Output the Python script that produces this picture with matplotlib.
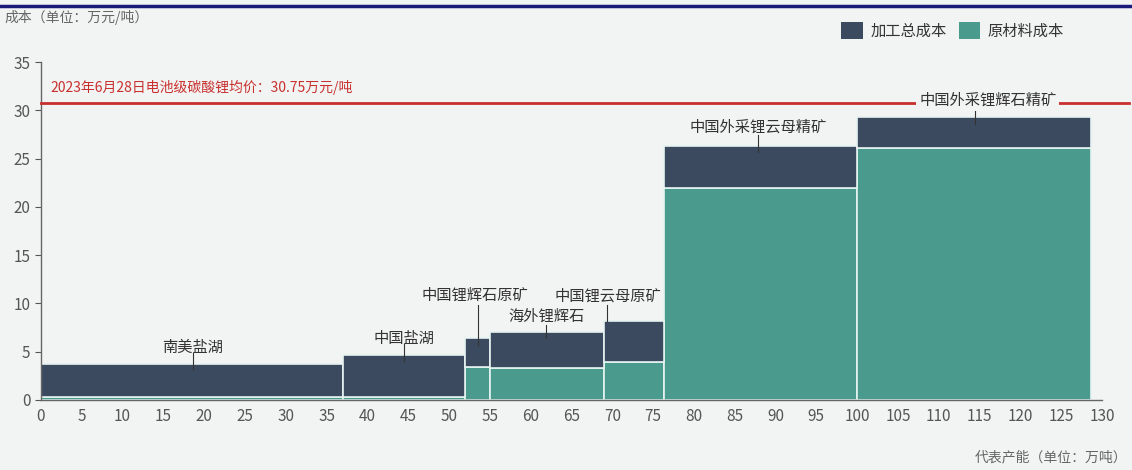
import matplotlib
matplotlib.use("Agg")
import matplotlib.pyplot as plt
from matplotlib.lines import Line2D
from matplotlib.patches import Patch

plt.rcParams['font.family'] = ['Noto Sans CJK SC', 'DejaVu Sans']

# Supply cost curve data
sources = ['南美盐湖', '中国盐湖', '中国锂辉石原矿', '海外锂辉石',
           '中国锂云母原矿', '中国外采锂云母精矿', '中国外采锂辉石精矿']
capacity = [37.0, 15.0, 3.0, 14.0, 7.3, 23.7, 28.6]       # 万吨
total_cost = [3.73, 4.66, 6.38, 7.07, 8.15, 26.3, 29.3]   # 万元/吨
raw_cost = [0.35, 0.35, 3.45, 3.35, 3.97, 21.95, 26.1]    # 万元/吨
price = 30.75
price_label = '2023年6月28日电池级碳酸锂均价：30.75万元/吨'
x_ticks = list(range(0, 131, 5))
y_ticks = list(range(0, 36, 5))

dark = '#3c4a5f'
teal = '#4a9a8e'
bg = '#f2f3f3'
grey = '#555555'

fig = plt.figure(figsize=(11.32, 4.70), dpi=100, facecolor=bg)
ax = fig.add_axes([0.0362, 0.149, 0.9373, 0.719], facecolor=bg)

lefts = []
acc = 0.0
for w in capacity:
    lefts.append(acc)
    acc += w

proc_cost = [t - r for t, r in zip(total_cost, raw_cost)]
ax.bar(lefts, raw_cost, width=capacity, align='edge', color=teal,
       edgecolor='#e6f4f1', linewidth=1.2, zorder=2)
ax.bar(lefts, proc_cost, width=capacity, bottom=raw_cost, align='edge',
       color=dark, edgecolor='#e6f4f1', linewidth=1.2, zorder=2)

# Price reference line
ax.plot([0, 133.3], [price, price], color='#c8302e', lw=2, zorder=3,
        clip_on=False)
ax.text(1.2, 32.4, price_label, color='#c8302e', fontsize=10,
        fontweight='medium', ha='left', va='center')

# Category labels with short leader lines
label_pos = [
    (18.6, 5.4, 18.6, 4.9, 3.2),
    (44.5, 6.4, 44.5, 5.8, 4.0),
    (53.2, 10.8, 53.5, 9.8, 5.7),
    (61.9, 8.7, 61.9, 7.8, 6.4),
    (69.5, 10.8, 69.3, 9.8, 8.15),
    (87.9, 28.3, 87.9, 27.4, 25.7),
]
for name, (tx, ty, lx, ly0, ly1) in zip(sources[:6], label_pos):
    ax.text(tx, ty, name, fontsize=11, color='#333333', ha='center',
            va='center', fontweight='medium', zorder=5)
    ax.plot([lx, lx], [ly0, ly1], color='#333333', lw=0.8, zorder=4)
ax.text(116.0, 31.05, sources[6], fontsize=11, color='#333333', ha='center',
        va='center', fontweight='medium', zorder=5,
        bbox=dict(facecolor=bg, edgecolor='none', pad=2))
ax.plot([114.5, 114.5], [30.1, 28.6], color='#333333', lw=0.8, zorder=4)

ax.set_xlim(0, 130)
ax.set_ylim(0, 35)
ax.set_xticks(x_ticks)
ax.set_yticks(y_ticks)
ax.tick_params(axis='both', labelsize=11, colors=grey, length=4)
ax.tick_params(axis='x', length=0, pad=6)
for s in ['top', 'right']:
    ax.spines[s].set_visible(False)
for s in ['left', 'bottom']:
    ax.spines[s].set_color('#666666')
    ax.spines[s].set_linewidth(1)

fig.text(0.004, 0.962, '成本（单位：万元/吨）', fontsize=10, color='#666666',
         ha='left', va='center')
fig.text(0.996, 0.026, '代表产能（单位：万吨）', fontsize=10, color='#666666',
         ha='right', va='center')

handles = [Patch(facecolor=dark, edgecolor='none'),
           Patch(facecolor=teal, edgecolor='none')]
fig.legend(handles, ['加工总成本', '原材料成本'], loc='center right',
           bbox_to_anchor=(0.952, 0.935), ncol=2, frameon=False,
           fontsize=11, handlelength=1.4, handleheight=1.4,
           columnspacing=0.8, handletextpad=0.5, labelcolor='#333333')

# Top border rule
fig.add_artist(Line2D([0, 1], [0.988, 0.988], transform=fig.transFigure,
                      color='#1a1a7a', lw=2.5))

fig.savefig('out.png', dpi=100, facecolor=bg)
